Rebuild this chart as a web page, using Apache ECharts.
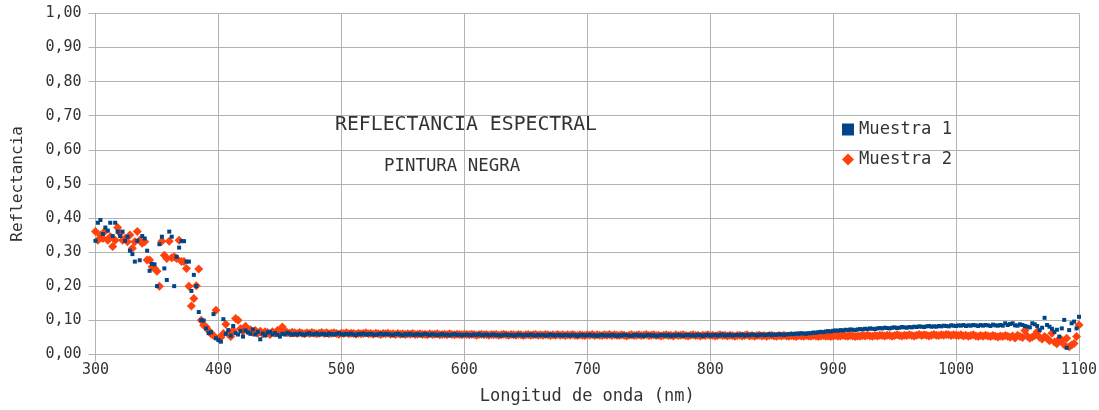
<!DOCTYPE html>
<html>
<head>
<meta charset="utf-8">
<script src="https://cdn.jsdelivr.net/npm/echarts@6/dist/echarts.min.js"></script>
<style>
html,body{margin:0;padding:0;background:#fff;}
#chart{width:1099px;height:410px;}
</style>
</head>
<body>
<div id="chart"></div>
<script>
// Wavelength grid (nm): 300 to 1100 every 2 nm
const WL_START = 300, WL_STEP = 2;
const xTicks = [300, 400, 500, 600, 700, 800, 900, 1000, 1100];
const yTicks = [0, 0.1, 0.2, 0.3, 0.4, 0.5, 0.6, 0.7, 0.8, 0.9, 1.0];
const seriesNames = ['Muestra 1', 'Muestra 2'];

const muestra1 = [
0.333,0.386,0.394,0.353,0.372,0.363,0.386,0.347,0.386,0.360,
0.347,0.360,0.333,0.345,0.304,0.294,0.272,0.333,0.276,0.347,
0.340,0.304,0.245,0.265,0.264,0.200,0.323,0.345,0.252,0.218,
0.360,0.345,0.200,0.286,0.313,0.332,0.332,0.272,0.272,0.186,
0.233,0.200,0.124,0.100,0.099,0.076,0.062,0.065,0.118,0.047,
0.042,0.037,0.103,0.060,0.071,0.055,0.083,0.062,0.058,0.068,
0.052,0.070,0.064,0.060,0.073,0.058,0.066,0.044,0.061,0.055,
0.064,0.066,0.058,0.062,0.057,0.052,0.060,0.058,0.063,0.061,
0.057,
0.060,0.058,0.061,0.059,0.057,0.060,0.062,0.058,0.059,0.061,
0.058,0.060,0.059,0.057,0.061,0.059,0.058,0.060,0.062,0.059,
0.058,0.060,0.059,0.061,0.058,0.057,0.060,0.059,0.061,0.058,
0.059,0.060,0.058,0.057,0.059,0.061,0.058,0.060,0.059,0.058,
0.057,0.059,0.060,0.058,0.056,0.059,0.058,0.060,0.057,0.058,
0.059,0.057,0.058,0.060,0.058,0.057,0.059,0.058,0.056,0.058,
0.059,0.057,0.058,0.056,0.058,0.059,0.057,0.058,0.056,0.057,
0.058,0.057,0.056,0.058,0.057,0.059,0.056,0.057,0.058,0.056,
0.057,0.058,0.056,0.057,0.055,0.057,0.058,0.056,0.057,0.055,
0.056,0.058,0.057,0.055,0.057,0.056,0.058,0.056,0.055,0.057,
0.056,0.057,0.055,0.056,0.058,0.056,0.055,0.057,0.056,0.055,
0.057,0.056,0.055,0.057,0.056,0.054,0.056,0.057,0.055,0.056,
0.057,0.055,0.056,0.054,0.056,0.057,0.055,0.056,0.055,0.057,
0.056,0.054,0.056,0.055,0.057,0.056,0.055,0.054,0.056,0.057,
0.055,0.056,0.054,0.056,0.057,0.055,0.056,0.054,0.055,0.057,
0.056,0.055,0.057,0.054,0.056,0.055,0.057,0.056,0.054,0.056,
0.057,0.055,0.056,0.055,0.057,0.056,0.054,0.056,0.057,0.055,
0.056,0.057,0.055,0.056,0.058,0.055,0.056,0.057,0.055,0.056,
0.057,0.056,0.058,0.055,0.057,0.056,0.058,0.057,0.055,0.057,
0.058,0.056,0.057,0.059,0.056,0.058,0.057,0.059,0.058,0.057,
0.058,0.059,0.060,0.059,0.061,0.060,0.062,0.061,0.060,0.062,
0.062,0.064,0.063,0.065,0.066,0.065,0.067,0.068,0.067,0.069,
0.070,0.069,0.071,0.070,0.072,0.071,0.073,0.072,0.071,0.073,
0.074,0.073,0.075,0.074,0.076,0.075,0.074,0.076,0.077,0.076,
0.078,0.077,0.076,0.078,0.079,0.077,0.078,0.080,0.079,0.078,
0.080,0.079,0.081,0.080,0.082,0.081,0.080,0.082,0.083,0.081,
0.082,0.081,0.083,0.082,0.084,0.083,0.082,0.085,0.084,0.083,
0.085,0.084,0.086,0.083,0.085,0.084,0.086,0.085,0.083,0.086,
0.084,0.086,0.085,0.083,0.087,0.085,0.084,0.086,0.084,0.091,
0.086,0.089,0.091,0.085,0.084,0.088,0.086,0.083,0.081,0.079,
0.091,0.088,0.083,0.071,0.078,0.107,0.086,0.081,0.075,0.066,
0.072,0.052,0.076,0.101,0.019,0.071,0.091,0.096,0.076,0.110
];

const muestra2 = [
0.360,0.335,0.350,0.340,0.362,0.335,0.345,0.316,0.335,0.372,
0.355,0.335,0.340,0.330,0.350,0.311,0.330,0.360,0.335,0.326,
0.330,0.277,0.277,0.257,0.252,0.244,0.200,0.332,0.291,0.281,
0.332,0.283,0.286,0.281,0.335,0.272,0.272,0.252,0.200,0.142,
0.164,0.201,0.250,0.100,0.085,0.080,0.070,0.060,0.055,0.129,
0.046,0.050,0.061,0.088,0.060,0.052,0.070,0.105,0.100,0.075,
0.068,0.082,0.070,0.072,0.065,0.070,0.062,0.068,0.060,0.066,
0.064,0.058,0.066,0.062,0.070,0.066,0.080,0.068,0.064,0.062,
0.065,
0.063,0.061,0.064,0.062,0.060,0.063,0.061,0.064,0.062,0.060,
0.062,0.064,0.061,0.063,0.060,0.062,0.063,0.061,0.059,0.062,
0.061,0.063,0.060,0.062,0.061,0.059,0.062,0.060,0.061,0.063,
0.060,0.061,0.059,0.062,0.060,0.058,0.061,0.060,0.062,0.059,
0.060,0.058,0.061,0.059,0.060,0.058,0.060,0.059,0.061,0.058,
0.059,0.060,0.058,0.059,0.057,0.060,0.058,0.059,0.060,0.057,
0.058,0.059,0.057,0.060,0.058,0.057,0.059,0.058,0.057,0.059,
0.058,0.057,0.059,0.058,0.056,0.058,0.059,0.057,0.058,0.056,
0.058,0.057,0.058,0.056,0.057,0.059,0.057,0.056,0.058,0.057,
0.056,0.058,0.057,0.055,0.057,0.058,0.056,0.057,0.058,0.056,
0.057,0.056,0.058,0.057,0.055,0.057,0.056,0.058,0.056,0.057,
0.055,0.057,0.056,0.058,0.056,0.055,0.057,0.056,0.055,0.057,
0.056,0.058,0.055,0.057,0.056,0.055,0.057,0.056,0.058,0.055,
0.057,0.056,0.055,0.057,0.056,0.054,0.056,0.057,0.055,0.056,
0.057,0.055,0.056,0.058,0.055,0.056,0.057,0.055,0.056,0.054,
0.056,0.057,0.055,0.056,0.054,0.057,0.055,0.056,0.057,0.055,
0.054,0.056,0.057,0.055,0.056,0.054,0.056,0.055,0.057,0.055,
0.056,0.054,0.055,0.057,0.055,0.056,0.054,0.056,0.055,0.053,
0.055,0.056,0.054,0.055,0.057,0.054,0.055,0.053,0.055,0.056,
0.054,0.055,0.053,0.055,0.056,0.054,0.053,0.055,0.054,0.056,
0.054,0.053,0.055,0.054,0.052,0.055,0.054,0.053,0.055,0.054,
0.053,0.055,0.054,0.052,0.054,0.055,0.053,0.054,0.052,0.054,
0.055,0.053,0.054,0.056,0.054,0.053,0.055,0.054,0.052,0.054,
0.053,0.055,0.054,0.056,0.054,0.053,0.055,0.054,0.056,0.055,
0.054,0.056,0.055,0.053,0.055,0.057,0.055,0.054,0.056,0.055,
0.057,0.055,0.054,0.056,0.058,0.055,0.057,0.056,0.054,0.056,
0.058,0.056,0.055,0.057,0.056,0.058,0.057,0.055,0.057,0.056,
0.055,0.057,0.054,0.056,0.053,0.055,0.057,0.054,0.052,0.055,
0.053,0.056,0.054,0.052,0.055,0.053,0.051,0.054,0.052,0.055,
0.053,0.050,0.054,0.048,0.056,0.052,0.049,0.070,0.053,0.047,
0.051,0.055,0.066,0.050,0.045,0.052,0.047,0.040,0.062,0.036,
0.031,0.045,0.042,0.028,0.047,0.022,0.027,0.032,0.052,0.086
];

const wavelengths = muestra1.map((_, i) => WL_START + WL_STEP * i);
const pairs = arr => arr.map((v, i) => [wavelengths[i], v]);

const FONT = 'DejaVu Sans Mono';
const TXT = '#333333';
const GRID = '#b3b3b3';

const chart = echarts.init(document.getElementById('chart'), null, {renderer: 'canvas'});
chart.setOption({
  animation: false,
  backgroundColor: '#ffffff',
  textStyle: {fontFamily: FONT},
  title: [
    {text: 'REFLECTANCIA ESPECTRAL', left: 330, top: 110,
     textStyle: {fontFamily: FONT, fontSize: 19.8, fontWeight: 'normal', color: TXT}},
    {text: 'PINTURA NEGRA', left: 379, top: 153,
     textStyle: {fontFamily: FONT, fontSize: 17.4, fontWeight: 'normal', color: TXT}}
  ],
  legend: {
    orient: 'vertical', left: 837, top: 116, itemGap: 13,
    itemWidth: 12, itemHeight: 12,
    textStyle: {fontFamily: FONT, fontSize: 17.2, color: TXT},
    data: [
      {name: seriesNames[0], icon: 'rect'},
      {name: seriesNames[1], icon: 'diamond'}
    ]
  },
  grid: {left: 95.5, right: 20, top: 13.5, bottom: 55.7, outerBoundsMode: 'none', containLabel: false},
  xAxis: {
    type: 'value', min: xTicks[0], max: xTicks[xTicks.length - 1], interval: 100,
    name: 'Longitud de onda (nm)', nameLocation: 'middle', nameGap: 34,
    nameTextStyle: {fontFamily: FONT, fontSize: 17, color: TXT},
    axisLine: {show: true, lineStyle: {color: GRID, width: 1}},
    axisTick: {show: true, length: 7, lineStyle: {color: GRID}},
    axisLabel: {fontFamily: FONT, fontSize: 15, color: TXT, margin: 8,
      formatter: v => String(v)},
    splitLine: {show: true, lineStyle: {color: GRID, width: 1}}
  },
  yAxis: {
    type: 'value', min: yTicks[0], max: yTicks[yTicks.length - 1], interval: 0.1,
    name: 'Reflectancia', nameLocation: 'middle', nameGap: 70,
    nameTextStyle: {fontFamily: FONT, fontSize: 16, color: TXT},
    axisLine: {show: true, lineStyle: {color: GRID, width: 1}},
    axisTick: {show: true, length: 7, lineStyle: {color: GRID}},
    axisLabel: {fontFamily: FONT, fontSize: 15, color: TXT, margin: 14,
      formatter: v => v.toFixed(2).replace('.', ',')},
    splitLine: {show: true, lineStyle: {color: GRID, width: 1}}
  },
  series: [
    {name: seriesNames[0], type: 'scatter', symbol: 'rect', symbolSize: 4,
     itemStyle: {color: '#004586', opacity: 1}, z: 3, data: pairs(muestra1)},
    {name: seriesNames[1], type: 'scatter', symbol: 'diamond', symbolSize: 9,
     itemStyle: {color: '#ff420e', opacity: 1}, z: 2, data: pairs(muestra2)}
  ]
});
</script>
</body>
</html>
